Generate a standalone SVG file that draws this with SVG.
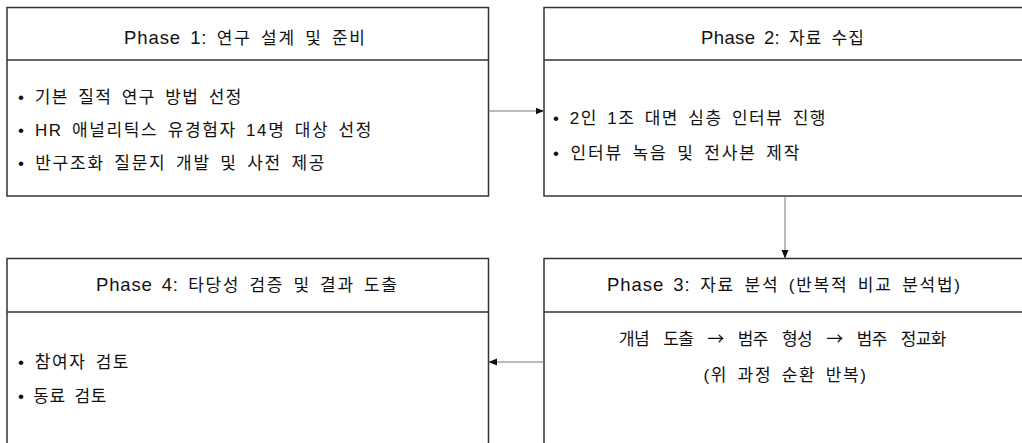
<svg xmlns="http://www.w3.org/2000/svg" width="1022" height="443" viewBox="0 0 1022 443">
<style>
.box{fill:#fff;stroke:#333;stroke-width:1.5}
.div{stroke:#333;stroke-width:1.5}
text{font-family:"Liberation Sans","Noto Sans CJK KR",sans-serif;font-size:17px;fill:#111;letter-spacing:0.5px;word-spacing:3px}
.h{letter-spacing:1px;word-spacing:3px}
.lat{font-size:18.5px;letter-spacing:0.2px}
.c{text-anchor:middle}
.ar{font-family:"Noto Sans CJK KR",sans-serif}
.conn{stroke:#777;stroke-width:1;fill:none}
</style>
<defs>
<marker id="ah" markerUnits="userSpaceOnUse" markerWidth="9" markerHeight="8" refX="8.5" refY="4" orient="auto">
<path d="M0,0.5 L8.5,4 L0,7.5 z" fill="#111"/>
</marker>
</defs>
<rect width="1022" height="443" fill="#fff"/>
<g id="phase1">
<rect class="box" x="7" y="7.5" width="481.5" height="188.5"/>
<line class="div" x1="7" y1="60" x2="488.5" y2="60"/>
<text class="c h" x="245" y="44" textLength="242" lengthAdjust="spacing"><tspan class="lat">Phase 1:</tspan> 연구 설계 및 준비</text>
<text x="18" y="103" textLength="224" lengthAdjust="spacing">• 기본 질적 연구 방법 선정</text>
<text x="18" y="136" textLength="354" lengthAdjust="spacing">• HR 애널리틱스 유경험자 14명 대상 선정</text>
<text x="18" y="169" textLength="307" lengthAdjust="spacing">• 반구조화 질문지 개발 및 사전 제공</text>
</g>
<g id="phase2">
<rect class="box" x="544" y="7.5" width="481" height="188.5"/>
<line class="div" x1="544" y1="60" x2="1025" y2="60"/>
<text class="c h" x="783" y="44" textLength="164" lengthAdjust="spacing"><tspan class="lat">Phase 2:</tspan> 자료 수집</text>
<text x="553" y="124" textLength="273" lengthAdjust="spacing">• 2인 1조 대면 심층 인터뷰 진행</text>
<text x="553" y="159" textLength="247" lengthAdjust="spacing">• 인터뷰 녹음 및 전사본 제작</text>
</g>
<g id="phase3">
<rect class="box" x="544" y="258.5" width="481" height="200"/>
<line class="div" x1="544" y1="312" x2="1025" y2="312"/>
<text class="c h" x="784" y="291" textLength="354" lengthAdjust="spacing"><tspan class="lat">Phase 3:</tspan> 자료 분석 (반복적 비교 분석법)</text>
<text class="c" x="783" y="345" textLength="328" lengthAdjust="spacing" style="word-spacing:10px">개념 도출 <tspan class="ar">→</tspan> 범주 형성 <tspan class="ar">→</tspan> 범주 정교화</text>
<text class="c" x="785" y="381" textLength="163" lengthAdjust="spacing">(위 과정 순환 반복)</text>
</g>
<g id="phase4">
<rect class="box" x="7" y="258.5" width="481.5" height="200"/>
<line class="div" x1="7" y1="312" x2="488.5" y2="312"/>
<text class="c h" x="247" y="291" textLength="302" lengthAdjust="spacing"><tspan class="lat">Phase 4:</tspan> 타당성 검증 및 결과 도출</text>
<text x="18" y="368" textLength="111" lengthAdjust="spacing">• 참여자 검토</text>
<text x="18" y="402" textLength="89" lengthAdjust="spacing">• 동료 검토</text>
</g>
<g id="connectors">
<path class="conn" d="M488.5,111 L544,111" marker-end="url(#ah)"/>
<path class="conn" d="M785,196 L785,258.5" marker-end="url(#ah)"/>
<path class="conn" d="M544,362 L488.5,362" marker-end="url(#ah)"/>
</g>
</svg>
